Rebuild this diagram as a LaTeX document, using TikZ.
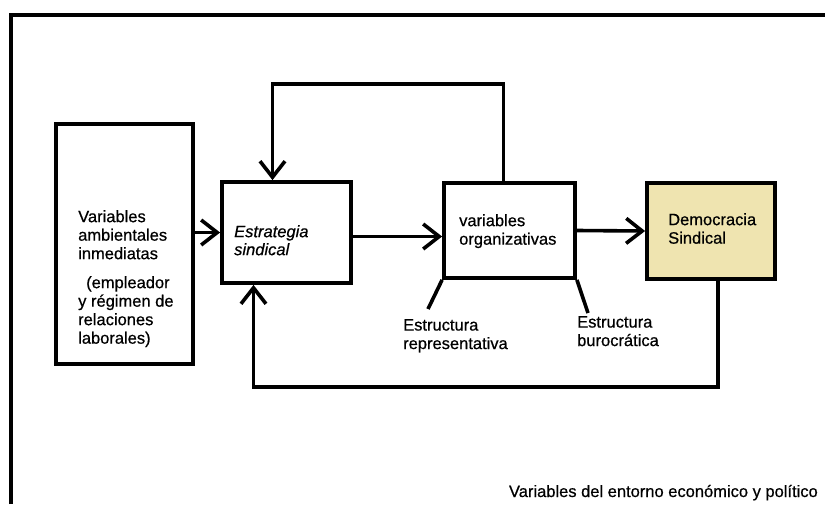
\documentclass[tikz,border=0pt]{standalone}
\usepackage{fontspec}
\setmainfont{Liberation Sans}[UprightFeatures={FakeBold=0.6},ItalicFeatures={FakeBold=0.6}]
\usetikzlibrary{arrows.meta,
  positioning
}
\definecolor{tan}{RGB}{239,228,176}

\begin{document}
\begin{tikzpicture}[x=1pt,y=-1pt,
        squarednode/.style={rectangle, draw=black, line width=3.8pt, inner sep=0pt},
        boxtext/.style={font=\fontsize{16.5}{18.5}\selectfont, align=left, inner sep=0pt, anchor=north west},
        link/.style={line width=3.6pt, -{Straight Barb[length=16pt,width=25pt]}},
        stroke/.style={line width=3.6pt},
      ]
      \useasboundingbox (0,0) rectangle (825,504);
      % Frame
      \draw[line width=3.8pt] (11,504) -- (11,15) -- (825,15);

      % Nodes
      \node[squarednode, minimum width=137pt, minimum height=240pt] (ambient) at (124.5,244) {};
      \node[squarednode, minimum width=129pt, minimum height=101pt] (strategy) at (286.5,232.5) {};
      \node[squarednode, minimum width=131pt, minimum height=95pt] (organiz) at (509.5,230.5) {};
      \node[squarednode, fill=tan, minimum width=128pt, minimum height=96pt] (democracy) at (711,231) {};

      \node[boxtext] (ambienttxt) at (78,210) {Variables\\ambientales\\inmediatas\\[10.5pt]\hspace*{8pt}(empleador\\y régimen de\\relaciones\\laborales)};
      \node[boxtext, font=\fontsize{16.5}{18}\selectfont\itshape] (strategytxt) at (234,225) {Estrategia\\sindical};
      \node[boxtext] (organiztxt) at (459,214) {variables\\organizativas};
      \node[boxtext] (democracytxt) at (668,213) {Democracia\\Sindical};

      \node[boxtext] (repres) at (403,319) {Estructura\\representativa};
      \node[boxtext] (bureau) at (577,316) {Estructura\\burocrática};
      \node[font=\fontsize{16.5}{18.5}\selectfont, inner sep=0pt, anchor=base east] (context) at (818,497) {Variables del entorno económico y político};

      \coordinate (represtip) at (428,309);
      \coordinate (bureautip) at (588,313);

      % Lines
      \draw[link] (ambient.east |- strategy.west) -- (strategy.west);
      \draw[link] ([yshift=-4pt]strategy.east) -- ([yshift=-4pt]strategy.east -| organiz.west);
      \draw[link] (organiz.east) -- (democracy.west);
      \draw[link] ([xshift=-6pt]organiz.north) -- ([xshift=-6pt]organiz.north |- 0,84) -| ([xshift=-14pt]strategy.north);
      \draw[link] ([xshift=7pt]democracy.south) -- ([xshift=7pt]democracy.south |- 0,387) -| ([xshift=-33pt]strategy.south);
      \draw[stroke] (organiz.south west) -- (represtip);
      \draw[stroke] (organiz.south east) -- (bureautip);
    \end{tikzpicture}
\end{document}
